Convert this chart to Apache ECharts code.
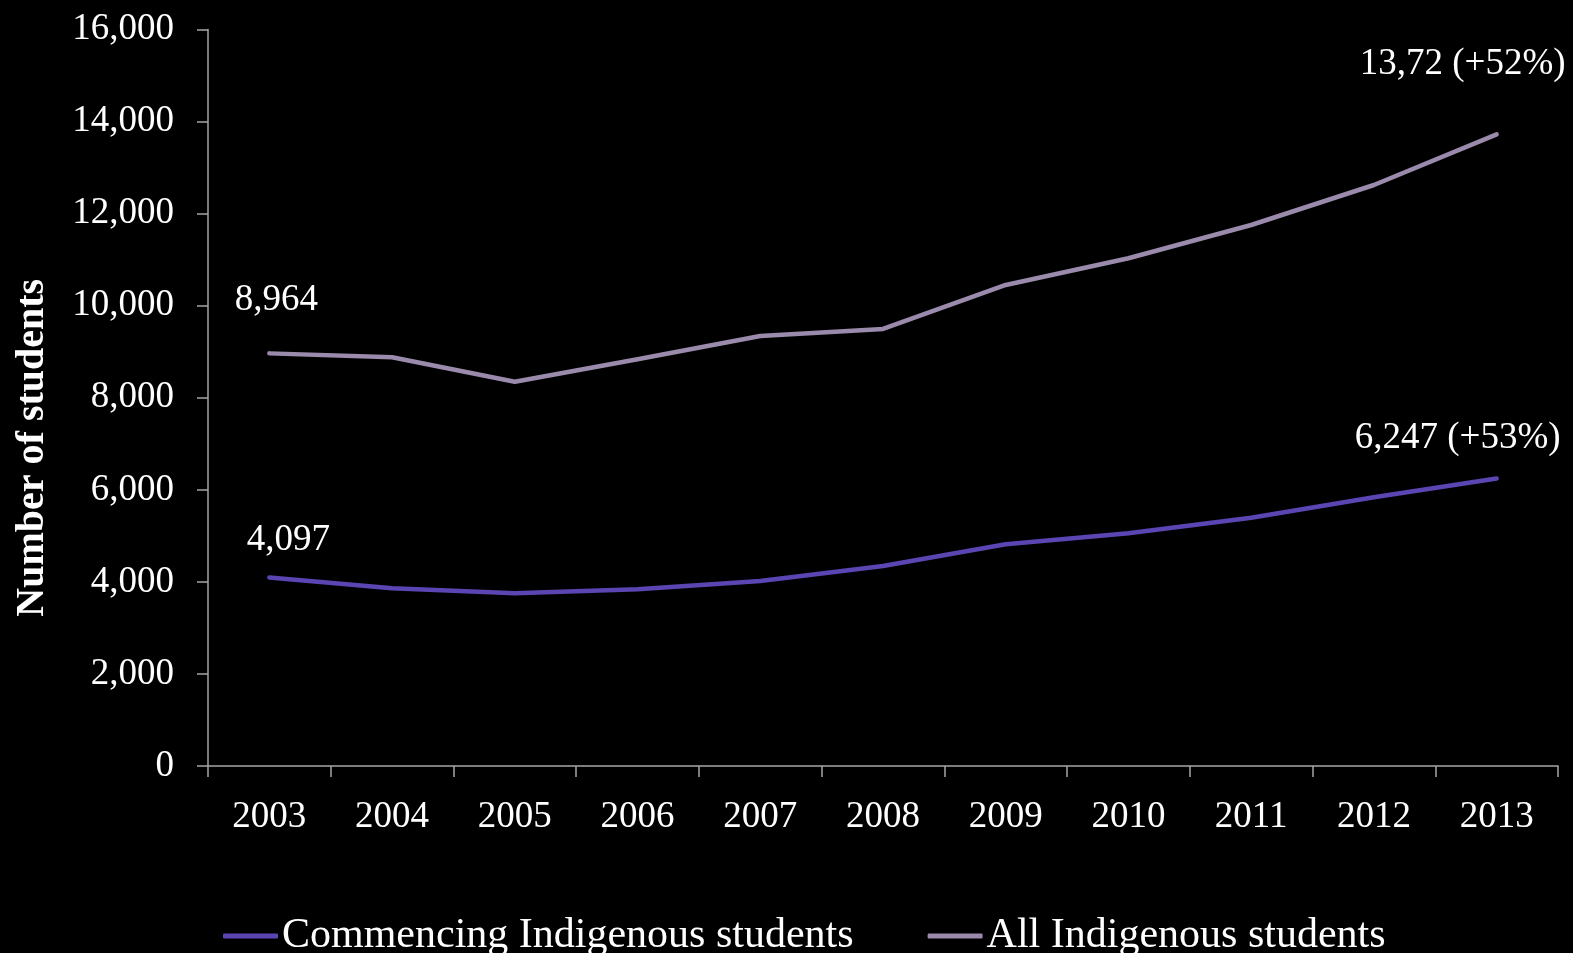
<!DOCTYPE html>
<html>
<head>
<meta charset="utf-8">
<script src="https://cdn.jsdelivr.net/npm/echarts@6/dist/echarts.min.js"></script>
<style>
  html, body { margin: 0; padding: 0; background: #000; }
  #chart { width: 1573px; height: 953px; }
</style>
</head>
<body>
<div id="chart"></div>
<script>
// Indigenous student numbers by year
const years = ['2003', '2004', '2005', '2006', '2007', '2008', '2009', '2010', '2011', '2012', '2013'];
const commencing = [4097, 3860, 3752, 3839, 4019, 4345, 4816, 5055, 5394, 5837, 6247];
const allStudents = [8964, 8879, 8349, 8836, 9342, 9494, 10450, 11030, 11753, 12622, 13720];
const yTicks = [0, 2000, 4000, 6000, 8000, 10000, 12000, 14000, 16000];

// Annotation text for the first and last year of each series
const commencingNotes = ['4,097', '6,247 (+53%)'];
const allNotes = ['8,964', '13,72 (+52%)'];

const seriesNames = ['Commencing Indigenous students', 'All Indigenous students'];
const colors = ['#5A45B3', '#9A8AAB'];
const FONT = '"Liberation Serif", "DejaVu Serif", serif';

function withNotes(values, notes, firstOffset, lastOffset) {
  const last = values.length - 1;
  return values.map((v, i) => {
    if (i === 0 || i === last) {
      return {
        value: v,
        label: {
          show: true,
          position: 'inside',
          offset: i === 0 ? firstOffset : lastOffset,
          formatter: i === 0 ? notes[0] : notes[1],
          color: '#ffffff',
          fontFamily: FONT,
          fontSize: 37
        }
      };
    }
    return v;
  });
}

const chart = echarts.init(document.getElementById('chart'), null, { renderer: 'canvas' });
chart.setOption({
  backgroundColor: '#000000',
  animation: false,
  grid: { left: 208, right: 15, top: 29.5, bottom: 187, containLabel: false, outerBoundsMode: 'none' },
  legend: {
    bottom: -9,
    left: 218,
    itemGap: 74,
    itemWidth: 55,
    itemHeight: 5,
    textStyle: { color: '#ffffff', fontFamily: FONT, fontSize: 42, padding: [0, 0, 0, -1] },
    data: seriesNames.map((n, i) => ({ name: n, icon: 'roundRect', itemStyle: { color: colors[i] } }))
  },
  xAxis: {
    type: 'category',
    data: years,
    boundaryGap: true,
    axisLine: { lineStyle: { color: '#a6a6a6', width: 1.5 } },
    axisTick: { show: true, length: 11, lineStyle: { color: '#a6a6a6', width: 1.5 } },
    axisLabel: { color: '#ffffff', fontFamily: FONT, fontSize: 37, margin: 33 }
  },
  yAxis: {
    type: 'value',
    min: yTicks[0],
    max: yTicks[yTicks.length - 1],
    interval: 2000,
    name: 'Number of students',
    nameLocation: 'middle',
    nameGap: 155,
    nameRotate: 90,
    nameTextStyle: {
      color: '#ffffff', fontFamily: FONT, fontSize: 40, fontWeight: 'bold',
      padding: [0, 100, 0, 0]
    },
    axisLine: { show: true, lineStyle: { color: '#a6a6a6', width: 1.5 } },
    axisTick: { show: true, length: 11, lineStyle: { color: '#a6a6a6', width: 1.5 } },
    splitLine: { show: false },
    axisLabel: {
      color: '#ffffff', fontFamily: FONT, fontSize: 37, margin: 34,
      formatter: v => v.toLocaleString('en-US')
    }
  },
  series: [
    {
      name: seriesNames[0],
      type: 'line',
      data: withNotes(commencing, commencingNotes, [19, -37], [-39, -40]),
      symbol: 'circle',
      symbolSize: 0,
      showSymbol: true,
      itemStyle: { color: colors[0] },
      lineStyle: { color: colors[0], width: 4.5, cap: 'round', join: 'round' },
      label: { show: false },
      z: 3
    },
    {
      name: seriesNames[1],
      type: 'line',
      data: withNotes(allStudents, allNotes, [7, -53], [-34, -70]),
      symbol: 'circle',
      symbolSize: 0,
      showSymbol: true,
      itemStyle: { color: colors[1] },
      lineStyle: { color: colors[1], width: 4.5, cap: 'round', join: 'round' },
      label: { show: false },
      z: 2
    }
  ]
});
</script>
</body>
</html>
